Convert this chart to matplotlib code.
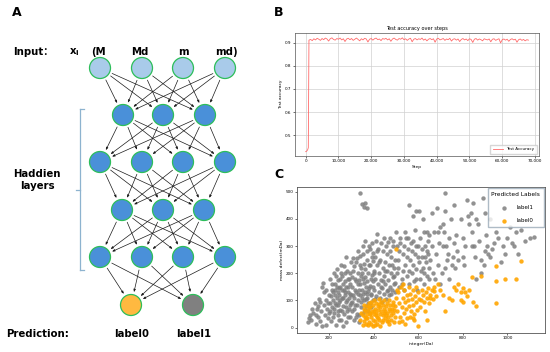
import numpy as np
import matplotlib
matplotlib.use("Agg")
import matplotlib.pyplot as plt
from matplotlib.patches import Circle, FancyArrowPatch
from matplotlib.ticker import FuncFormatter

# ---------------- data ----------------
input_names = ["(M", "Md", "m", "md)"]
output_names = ["label0", "label1"]
layer_sizes = [4, 3, 4, 3, 4, 2]

early_steps = [0, 300, 600, 800]
early_acc = [0.428, 0.430, 0.436, 0.445]
main_steps = list(range(1000, 68001, 500))
main_acc = [
    0.912, 0.915, 0.910, 0.918, 0.913, 0.920, 0.916, 0.911, 0.919, 0.914,
    0.921, 0.917, 0.908, 0.918, 0.922, 0.915, 0.912, 0.919, 0.916, 0.921,
    0.913, 0.918, 0.906, 0.917, 0.920, 0.914, 0.919, 0.911, 0.916, 0.921,
    0.915, 0.909, 0.918, 0.913, 0.920, 0.917, 0.904, 0.916, 0.919, 0.912,
    0.918, 0.921, 0.914, 0.917, 0.910, 0.919, 0.916, 0.920, 0.913, 0.918,
    0.907, 0.917, 0.921, 0.915, 0.912, 0.919, 0.916, 0.922, 0.914, 0.918,
    0.911, 0.917, 0.920, 0.905, 0.916, 0.919, 0.913, 0.918, 0.915, 0.921,
    0.912, 0.917, 0.909, 0.916, 0.919, 0.914, 0.918, 0.903, 0.917, 0.920,
    0.913, 0.916, 0.919, 0.911, 0.917, 0.914, 0.920, 0.908, 0.916, 0.918,
    0.912, 0.917, 0.906, 0.915, 0.919, 0.913, 0.917, 0.910, 0.918, 0.915,
    0.902, 0.916, 0.919, 0.912, 0.917, 0.914, 0.909, 0.918, 0.915, 0.913,
    0.917, 0.905, 0.916, 0.918, 0.911, 0.915, 0.918, 0.900, 0.914, 0.917,
    0.912, 0.916, 0.907, 0.915, 0.918, 0.913, 0.916, 0.903, 0.914, 0.917,
    0.911, 0.915, 0.909, 0.914, 0.912,
]

label1_points = [
    (105,20),(115,45),(120,30),(130,55),(135,90),(140,15),(145,70),(150,40),(155,105),(160,25),
    (165,60),(170,150),(172,165),(175,130),(178,85),(180,45),(185,10),(188,100),(190,70),(195,35),
    (198,120),(200,55),(160,95),(150,80),(185,140),(125,70),(140,45),(170,5),(195,90),(110,35),
    (205,180),(210,25),(212,140),(215,75),(218,100),(220,200),(222,55),(225,160),(228,120),(230,10),
    (232,85),(235,215),(238,45),(240,130),(242,175),(245,95),(248,65),(250,150),(252,230),(255,30),
    (258,110),(260,190),(262,80),(265,140),(268,50),(270,170),(272,120),(275,260),(278,20),(280,100),
    (282,210),(285,150),(288,70),(290,180),(292,125),(295,40),(298,240),(300,90),
    (208,115),(214,160),(226,90),(236,150),(244,30),(254,200),(264,110),(274,75),(284,130),(294,200),
    (246,120),(256,60),(266,225),(276,150),(286,40),(296,160),(216,130),(234,110),(204,90),(224,70),
    (262,5),(270,130),(288,110),(276,95),(248,180),(238,85),(258,140),(232,190),(282,60),(292,85),
    (206,60),(218,40),(262,160),(244,145),(272,200),(284,180),(298,120),(250,100),(228,140),(240,60),
    (302,150),(305,60),(308,210),(310,110),(312,30),(315,180),(318,85),(320,240),(322,130),(325,50),
    (328,200),(330,100),(332,160),(335,20),(338,230),(340,120),(342,75),(345,190),(348,140),(350,55),
    (352,270),(355,100),(358,165),(360,215),(362,130),(365,80),(368,250),(370,170),(372,110),(375,200),
    (378,145),(380,300),(382,90),(385,230),(388,180),(390,120),(392,260),(395,150),(398,100),(400,210),
    (303,95),(313,70),(323,170),(333,45),(343,220),(353,125),(363,185),(373,60),(383,155),(393,195),
    (306,255),(316,140),(326,85),(336,175),(346,110),(356,235),(366,150),(376,90),(386,125),(396,245),
    (309,120),(319,40),(329,125),(339,160),(349,200),(359,65),(369,125),(379,230),(389,75),(399,170),
    (304,185),(344,95),(364,105),(374,135),(354,180),(334,140),(324,255),(314,225),(384,290),(394,310),
    (370,280),(350,300),(330,280),(360,320),(395,275),(340,265),
    (402,140),(405,260),(408,180),(410,320),(412,115),(415,230),(418,160),(420,290),(422,130),(425,200),
    (428,250),(430,110),(432,175),(435,310),(438,145),(440,220),(442,280),(445,125),(448,190),(450,240),
    (452,160),(455,300),(458,135),(460,210),(462,270),(465,175),(468,120),(470,230),(472,330),(475,150),
    (478,200),(480,260),(482,140),(485,185),(488,300),(490,220),(492,160),(495,250),(498,130),(500,350),
    (403,200),(413,280),(423,240),(433,150),(443,170),(453,210),(463,140),(473,280),(483,230),(493,190),
    (407,105),(437,95),(457,105),(477,125),(497,165),(416,345),(446,330),(486,320),(466,315),(506,300),
    (505,200),(510,250),(515,150),(520,310),(525,180),(530,270),(535,140),(540,230),(545,330),(550,190),
    (555,290),(560,160),(565,250),(570,200),(575,320),(580,170),(585,270),(590,215),(595,140),(600,300),
    (605,240),(610,180),(615,260),(620,220),(625,160),(630,300),(635,240),(640,190),(645,270),(650,220),
    (508,220),(518,330),(528,160),(538,300),(548,260),(558,210),(568,310),(578,230),(588,180),(598,260),
    (608,330),(618,290),(628,200),(638,280),(648,180),(512,280),(532,210),(552,330),(572,280),(592,300),
    (612,210),(632,260),(642,320),(560,450),(575,410),(590,430),(605,430),(620,400),(540,350),(585,360),
    (625,350),(650,340),
    (655,250),(660,300),(665,200),(670,350),(675,180),(680,270),(685,440),(690,230),(695,310),(700,370),
    (705,200),(710,380),(715,350),(720,495),(722,430),(725,300),(730,250),(735,270),(740,330),(745,400),
    (750,230),(755,260),(760,310),(765,220),(770,340),(775,280),(780,250),(790,400),(800,260),(805,230),
    (810,300),(820,470),(825,410),(830,380),(835,420),(840,350),(845,460),(850,300),(855,260),(860,400),
    (870,380),(875,320),(880,250),(890,475),(895,230),(900,280),(905,340),(910,300),(915,270),(920,260),
    (930,290),(940,310),(950,350),(960,330),(970,240),(980,300),(990,270),(1000,330),(1010,370),(1020,310),
    (1030,300),(1040,350),(1050,270),(1060,360),(1080,320),(1100,330),(1120,335),(860,180),(880,200),(900,420),
    (920,400),(700,160),(720,220),(690,350),(760,450),(800,330),(840,300),(640,350),(660,420),(710,300),
    (740,180),
    (340,495),(348,455),(355,445),(362,460),(370,440),
]

label0_points = [
    (340,30),(345,55),(350,10),(352,45),(355,70),(358,25),(360,40),(362,60),(365,15),(368,80),
    (370,50),(372,35),(375,65),(378,90),(380,20),(382,55),(385,75),(388,40),(390,95),(392,60),
    (395,30),(398,85),(400,50),(402,100),(405,70),(408,25),(410,90),(412,55),(415,40),(418,80),
    (420,65),(422,105),(425,30),(428,75),(430,50),(432,95),(435,60),(438,20),(440,85),(442,45),
    (445,70),(448,100),(450,35),(452,60),(455,80),(458,25),(460,55),(462,90),(465,40),(468,70),
    (470,15),(472,60),(475,85),(478,45),(480,30),(482,70),(485,55),(488,95),(490,20),(492,65),
    (495,40),(498,80),
    (405,10),(415,15),(395,5),(375,10),(430,5),(365,35),(385,50),(410,45),(420,35),(440,30),
    (455,45),(470,100),(380,75),(400,60),(426,88),(446,55),(466,25),(486,85),(356,85),(390,15),
    (500,110),(505,60),(510,130),(515,90),(520,40),(522,150),(525,75),(530,110),(535,55),(538,140),
    (540,95),(545,70),(548,120),(550,35),(555,100),(558,150),(560,80),(565,125),(568,60),(570,105),
    (575,140),(578,85),(580,50),(585,115),(590,95),(595,65),(600,130),(605,105),(610,75),(615,140),
    (620,120),(625,95),(630,60),(635,130),(640,110),(645,145),(650,90),(655,120),(660,140),(665,105),
    (670,135),(680,115),(690,160),(700,140),(710,120),
    (512,20),(528,25),(542,15),(562,40),(582,30),(600,5),(640,30),(720,60),(532,160),(592,150),
    (612,100),(652,110),(672,150),(505,140),(575,35),
    (500,290),(740,110),(750,100),(760,150),(770,140),(780,160),(790,130),(800,95),(810,130),(820,115),
    (830,140),(840,185),(845,95),(860,80),(880,190),(950,170),(950,225),(950,90),(990,180),(1040,180),
    (1060,245),(800,145),(790,100),
]

# ---------------- figure ----------------
plt.rcParams["font.family"] = ["DejaVu Sans", "Noto Sans CJK SC"]
fig = plt.figure(figsize=(5.5, 3.52), dpi=100)
fig.patch.set_facecolor("white")

ax0 = fig.add_axes([0, 0, 1, 1])
ax0.set_xlim(0, 550)
ax0.set_ylim(352, 0)
ax0.axis("off")

fs_big = 7.3
for letter, (lx, ly) in zip(["A", "B", "C"], [(17, 13), (279, 13), (279, 174)]):
    ax0.text(lx, ly, letter, fontsize=9, fontweight="bold", ha="center", va="center")

# Panel A network
layer_x = [[100, 142, 183, 225], [123, 163, 205], [100, 142, 183, 225],
           [122, 163, 204], [100, 142, 183, 225], [131, 193]]
layer_y = [68, 115, 162, 210, 257, 305]
r = 10.5

for li in range(len(layer_sizes) - 1):
    for xa in layer_x[li]:
        for xb in layer_x[li + 1]:
            ya, yb = layer_y[li], layer_y[li + 1]
            d = np.hypot(xb - xa, yb - ya)
            ux, uy = (xb - xa) / d, (yb - ya) / d
            p0 = (xa + ux * r, ya + uy * r)
            p1 = (xb - ux * r, yb - uy * r)
            arr = FancyArrowPatch(p0, p1, arrowstyle="-|>,head_length=1.5,head_width=0.6",
                                  color="#1a1a1a", lw=0.5, mutation_scale=1, zorder=2)
            ax0.add_patch(arr)

for li, xs in enumerate(layer_x):
    for ni, x in enumerate(xs):
        if li == 0:
            fc = "#A9CBEA"
        elif li == len(layer_x) - 1:
            fc = "#FFB940" if ni == 0 else "#808080"
        else:
            fc = "#4A90D9"
        ax0.add_patch(Circle((x, layer_y[li]), r, facecolor=fc, edgecolor="#2DBE5A",
                             lw=0.9, zorder=3))

ax0.text(13, 52, "Input：", fontsize=fs_big, fontweight="bold", ha="left", va="center")
ax0.text(74, 52, r"x$_\mathregular{i}$", fontsize=fs_big, fontweight="bold", ha="center", va="center")
for name, x in zip(input_names, [98, 140, 183, 226]):
    ax0.text(x, 52, name, fontsize=fs_big, fontweight="bold", ha="center", va="center")
ax0.text(37, 180, "Haddien\nlayers", fontsize=fs_big, fontweight="bold", ha="center",
         va="center", linespacing=1.35)
ax0.text(6, 334, "Prediction:", fontsize=fs_big, fontweight="bold", ha="left", va="center")
for name, x in zip(output_names, layer_x[-1]):
    ax0.text(x + 1, 334, name, fontsize=fs_big, fontweight="bold", ha="center", va="center")

bc = "#8DB3CF"
ax0.plot([80, 80], [109, 270], color=bc, lw=0.9)
ax0.plot([80, 84], [109, 109], color=bc, lw=0.9)
ax0.plot([80, 84], [270, 270], color=bc, lw=0.9)
ax0.plot([76, 80], [190, 190], color=bc, lw=0.9)

# Panel B
tick_fs = 3.0
axB = fig.add_axes([295 / 550, 1 - 156 / 352, 244 / 550, 123 / 352])
axB.plot(early_steps + main_steps, early_acc + main_acc, color="#FF5A5A", lw=0.6, alpha=0.9,
         label="Test Accuracy")
axB.set_xlim(-3260, 71220)
axB.set_ylim(0.409, 0.943)
axB.set_xticks([0, 10000, 20000, 30000, 40000, 50000, 60000, 70000])
axB.xaxis.set_major_formatter(FuncFormatter(lambda v, p: f"{int(v):,}"))
axB.set_yticks([0.5, 0.6, 0.7, 0.8, 0.9])
axB.grid(True, color="#d0d0d0", lw=0.5)
axB.tick_params(labelsize=tick_fs, length=1.5, width=0.4, pad=1)
axB.set_title("Test accuracy over steps", fontsize=3.6, pad=2)
axB.set_xlabel("Step", fontsize=3.2, labelpad=1)
axB.set_ylabel("Test accuracy", fontsize=3.2, labelpad=1.5)
for s in axB.spines.values():
    s.set_linewidth(0.5)
    s.set_color("#555555")
axB.legend(loc="lower right", fontsize=3.0, frameon=True, handlelength=2.5,
           borderpad=0.6, fancybox=False, edgecolor="#cccccc")

# Panel C
axC = fig.add_axes([297 / 550, 1 - 333 / 352, 248 / 550, 146 / 352])
g = np.array(label1_points)
o = np.array(label0_points)
axC.scatter(g[:, 0], g[:, 1], s=10, color="#7f7f7f", alpha=0.85, lw=0, label="label1")
axC.scatter(o[:, 0], o[:, 1], s=10, color="#FFA500", alpha=0.9, lw=0, label="label0")
axC.set_xlim(56, 1169)
axC.set_ylim(-19.5, 517)
axC.set_xticks([200, 400, 600, 800, 1000])
axC.set_yticks([0, 100, 200, 300, 400, 500])
axC.tick_params(labelsize=tick_fs, length=1.5, width=0.4, pad=1)
axC.set_xlabel("integer(Da)", fontsize=3.2, labelpad=1)
axC.set_ylabel("mass defect(mDa)", fontsize=3.2, labelpad=1.5)
for s in axC.spines.values():
    s.set_linewidth(0.6)
    s.set_color("#555555")
leg = axC.legend(title="Predicted Labels", loc="upper right", fontsize=4.0, title_fontsize=4.2,
                 frameon=True, fancybox=False, edgecolor="#9aaab8", borderpad=0.7,
                 labelspacing=1.5, markerscale=1.0, borderaxespad=0.15, handletextpad=1.2)

fig.savefig("out.png", dpi=100, facecolor="white")
